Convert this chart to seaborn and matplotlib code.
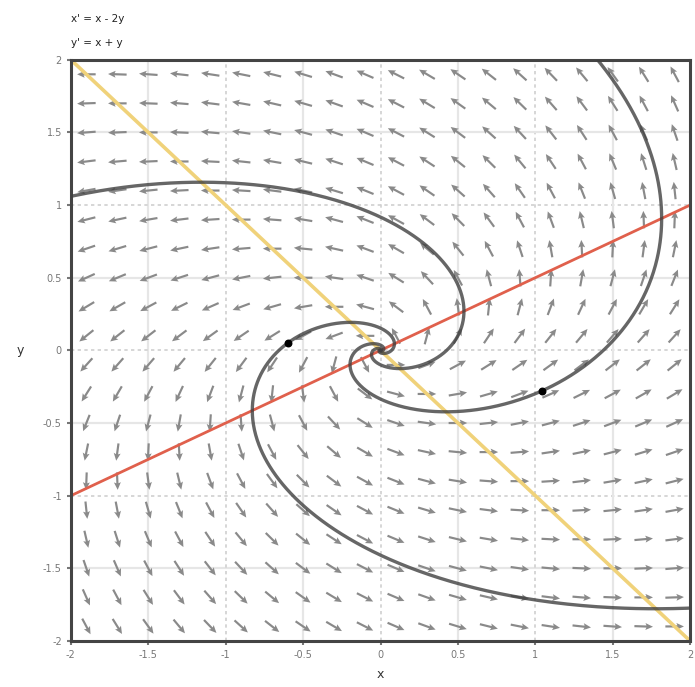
"""
Retrato de fase do sistema x' = x - 2y, y' = x + y (espiral instavel).
"""

import matplotlib
matplotlib.use("Agg")
import matplotlib.pyplot as plt
import numpy as np
import pandas as pd
import seaborn as sns

# coeficientes do sistema linear  x' = a*x + b*y ,  y' = c*x + d*y
COEF_X = [1.0, -2.0]
COEF_Y = [1.0, 1.0]
EQ_LABELS = ["x' = x - 2y", "y' = x + y"]

# malha do campo de direcoes
GRID_X = [-1.9, -1.7, -1.5, -1.3, -1.1, -0.9, -0.7, -0.5, -0.3, -0.1,
          0.1, 0.3, 0.5, 0.7, 0.9, 1.1, 1.3, 1.5, 1.7, 1.9]
GRID_Y = GRID_X

# condicoes iniciais (a ultima sem marcador)
SEED_X = [-0.60, 1.04, -2.0]
SEED_Y = [0.05, -0.28, 1.06]
SEED_DOT = [True, True, False]

TICKS = [-2, -1.5, -1, -0.5, 0, 0.5, 1, 1.5, 2]
TICK_LABELS = ["-2", "-1.5", "-1", "-0.5", "0", "0.5", "1", "1.5", "2"]
LIM = (-2, 2)


def campo(p):
    x, y = p
    return np.array([COEF_X[0] * x + COEF_X[1] * y, COEF_Y[0] * x + COEF_Y[1] * y])


def integrar(p0, sentido, dt=0.005, t_max=14.0):
    pts = [np.array(p0, dtype=float)]
    p = pts[0].copy()
    for _ in range(int(t_max / dt)):
        k1 = campo(p)
        k2 = campo(p + 0.5 * sentido * dt * k1)
        k3 = campo(p + 0.5 * sentido * dt * k2)
        k4 = campo(p + sentido * dt * k3)
        p = p + sentido * dt / 6 * (k1 + 2 * k2 + 2 * k3 + k4)
        pts.append(p.copy())
        if np.abs(p).max() > 2.3 or np.hypot(*p) < 1e-4:
            break
    return np.array(pts)


def trajetoria(x0, y0):
    tras = integrar((x0, y0), -1)[::-1]
    frente = integrar((x0, y0), 1)
    return np.vstack([tras, frente[1:]])


sns.set_theme(style="white")
plt.rcParams["font.family"] = ["DejaVu Sans"]

fig = plt.figure(figsize=(6.95, 6.87), dpi=100)
ax = fig.add_axes([0.102, 0.067, 0.891, 0.846])

# grade: meias unidades solidas e claras, inteiros pontilhados
for v in TICKS:
    if float(v).is_integer():
        ax.axvline(v, color="#d0d0d0", lw=1.2, ls=(0, (2, 2)), zorder=0)
        ax.axhline(v, color="#d0d0d0", lw=1.2, ls=(0, (2, 2)), zorder=0)
    else:
        ax.axvline(v, color="#e6e6e6", lw=1.6, zorder=0)
        ax.axhline(v, color="#e6e6e6", lw=1.6, zorder=0)

# campo de direcoes normalizado
gx, gy = np.meshgrid(GRID_X, GRID_Y)
u = COEF_X[0] * gx + COEF_X[1] * gy
v = COEF_Y[0] * gx + COEF_Y[1] * gy
n = np.hypot(u, v)
n[n == 0] = 1
ax.quiver(gx, gy, u / n, v / n, color="#8a8a8a", pivot="middle",
          angles="xy", scale_units="xy", scale=1 / 0.12,
          width=0.0035, headwidth=3.2, headlength=3.5, headaxislength=3.0,
          zorder=1)

# isoclinas nulas
xs = np.array(LIM, dtype=float)
null_x = pd.DataFrame({"x": xs, "y": -COEF_X[0] * xs / COEF_X[1]})
null_y = pd.DataFrame({"x": xs, "y": -COEF_Y[0] * xs / COEF_Y[1]})
sns.lineplot(data=null_y, x="x", y="y", color="#f0d27a", lw=2.6, ax=ax, zorder=2)
sns.lineplot(data=null_x, x="x", y="y", color="#e0604c", lw=2.0, ax=ax, zorder=2)

# trajetorias
for x0, y0, dot in zip(SEED_X, SEED_Y, SEED_DOT):
    tr = trajetoria(x0, y0)
    df = pd.DataFrame({"x": tr[:, 0], "y": tr[:, 1]})
    sns.lineplot(data=df, x="x", y="y", sort=False, estimator=None,
                 color="#404040", alpha=0.8, lw=2.4, ax=ax, zorder=3)
    if dot:
        ax.scatter([x0], [y0], s=22, color="black", zorder=4)

ax.set_xlim(LIM)
ax.set_ylim(LIM)
ax.set_xticks(TICKS)
ax.set_xticklabels(TICK_LABELS)
ax.set_yticks(TICKS)
ax.set_yticklabels(TICK_LABELS)
ax.tick_params(axis="both", labelsize=7, colors="#777777", length=3,
               width=1.5, direction="out", bottom=True, left=True)
for sp in ax.spines.values():
    sp.set_color("#444444")
    sp.set_linewidth(2.2)

ax.set_xlabel("x", fontsize=9, color="#333333", labelpad=6)
ax.set_ylabel("y", fontsize=9, color="#333333", rotation=0, labelpad=16,
              va="center")

fig.text(0.102, 0.972, EQ_LABELS[0], fontsize=7.5, color="#222222", va="center")
fig.text(0.102, 0.938, EQ_LABELS[1], fontsize=7.5, color="#222222", va="center")

fig.savefig("out.png", dpi=100)
